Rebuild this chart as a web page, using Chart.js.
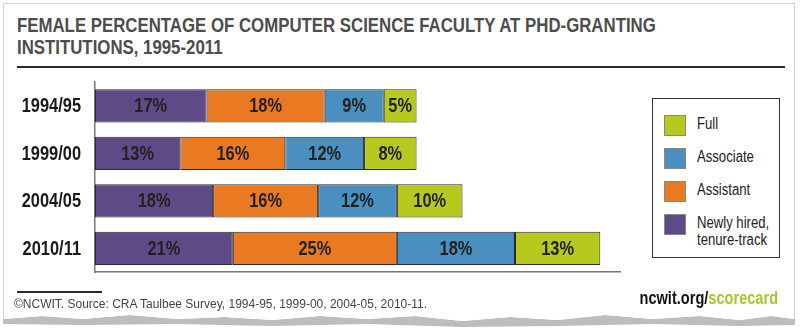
<!DOCTYPE html>
<html>
<head>
<meta charset="utf-8">
<script src="https://cdn.jsdelivr.net/npm/chart.js@4.4.1/dist/chart.umd.min.js"></script>
<style>
  html, body { margin: 0; padding: 0; background: #ffffff; }
  #page { position: relative; width: 800px; height: 334px; overflow: hidden; background: #fff;
          font-family: "Liberation Sans", Arial, sans-serif; }
  #card { position: absolute; left: 3px; top: 3px; width: 792px; height: 331px; background: #fff;
          border: 1px solid #d4d4d4; box-sizing: border-box;
          clip-path: polygon(0 0, 100% 0, 100% 316px, 97% 313px, 93% 317px, 88% 313px, 82% 316px, 76% 312px, 70% 317px, 64% 314px, 58% 318px, 52% 313px, 46% 316px, 40% 313px, 34% 317px, 28% 314px, 22% 316px, 16% 312px, 10% 316px, 5% 313px, 0 316px); }
  #edge { position: absolute; left: 3px; top: 3px; width: 792px; height: 331px; background: #bdbdbd;
          clip-path: polygon(0 316px, 5% 313px, 10% 316px, 16% 312px, 22% 316px, 28% 314px, 34% 317px, 40% 313px, 46% 316px, 52% 313px, 58% 318px, 64% 314px, 70% 317px, 76% 312px, 82% 316px, 88% 313px, 93% 317px, 97% 313px, 100% 316px, 100% 322px, 93% 323px, 82% 321px, 70% 323px, 58% 324px, 46% 321px, 34% 323px, 22% 321px, 10% 322px, 0 321px); }
  .narrow { transform: scaleX(0.82); transform-origin: left top; white-space: nowrap; }
  #title { position: absolute; left: 17px; top: 14px; font-weight: bold; font-size: 20.5px; line-height: 21.5px;
           color: #4d4d4d; }
  #rule { position: absolute; left: 17px; top: 66px; width: 768px; height: 2px; background: #2a2a2a; }
  #rule2 { position: absolute; left: 17px; top: 291px; width: 85px; height: 2px; background: #2a2a2a; }
  #source { position: absolute; left: 14px; top: 297px; font-size: 12px; color: #444; white-space: nowrap; }
  #brand { position: absolute; right: 22px; top: 288px; font-size: 18px; font-weight: bold; color: #111;
           transform: scaleX(0.81); transform-origin: right top; white-space: nowrap; }
  #brand span { color: #a9c52a; }
  #chartWrap { position: absolute; left: 0; top: 0; width: 660px; height: 334px; }
  #legend { position: absolute; left: 652px; top: 98px; width: 128px; height: 160px; box-sizing: border-box;
            border: 1.5px solid #333; background: #fff; }
  .item { position: absolute; left: 11px; }
  .sw { position: absolute; left: 0; top: 0; width: 22px; height: 21px; border: 1px solid #888; box-sizing: border-box; }
  .lab { position: absolute; left: 33px; top: 0px; font-size: 16px; line-height: 17px; color: #222; }
</style>
</head>
<body>
<div id="page">
  <div id="edge"></div>
  <div id="card"></div>
  <div id="title" class="narrow">FEMALE PERCENTAGE OF COMPUTER SCIENCE FACULTY AT PHD-GRANTING<br>INSTITUTIONS, 1995-2011</div>
  <div id="rule"></div>
  <div id="chartWrap"><canvas id="c" width="660" height="334"></canvas></div>
  <div id="legend"></div>
  <div id="rule2"></div>
  <div id="source">©NCWIT. Source: CRA Taulbee Survey, 1994-95, 1999-00, 2004-05, 2010-11.</div>
  <div id="brand">ncwit.org/<span>scorecard</span></div>
</div>
<script>
// Academic years
const years = ['1994/95', '1999/00', '2004/05', '2010/11'];

// Female share (%) by faculty rank
const newlyHired = [17, 13, 18, 21];
const assistant  = [18, 16, 16, 25];
const associate  = [9, 12, 12, 18];
const full       = [5, 8, 10, 13];

const rankNames = ['Newly hired, tenure-track', 'Assistant', 'Associate', 'Full'];
const rankLegendLines = [['Newly hired,', 'tenure-track'], ['Assistant'], ['Associate'], ['Full']];
const rankColors = ['#5e4a86', '#e97a22', '#4a8fc0', '#b7c91c'];

const FONT = '"Liberation Sans", Arial, sans-serif';
const SQUEEZE = 0.82; // condensed lettering

// Draws text horizontally condensed around its anchor point
function condensedText(ctx, text, x, y, align) {
  ctx.save();
  ctx.translate(x, y);
  ctx.scale(SQUEEZE, 1);
  ctx.textAlign = align;
  ctx.fillText(text, 0, 0);
  ctx.restore();
}

// Category names beside the y axis and each segment's value at its centre
const condensedLabels = {
  id: 'condensedLabels',
  afterDatasetsDraw(chart) {
    const ctx = chart.ctx;
    const yScale = chart.scales.y;
    ctx.save();
    ctx.textBaseline = 'middle';
    ctx.font = 'bold 20px ' + FONT;
    ctx.fillStyle = '#1a1a1a';
    chart.data.labels.forEach((lab, i) => {
      condensedText(ctx, lab, yScale.right - 14, yScale.getPixelForTick(i) + 1, 'right');
    });
    ctx.fillStyle = '#222';
    chart.data.datasets.forEach((ds, i) => {
      chart.getDatasetMeta(i).data.forEach((bar, j) => {
        condensedText(ctx, ds.data[j] + '%', (bar.x + bar.base) / 2, bar.y + 1, 'center');
      });
    });
    ctx.restore();
  }
};

const seriesValues = [newlyHired, assistant, associate, full];

const chart = new Chart(document.getElementById('c'), {
  type: 'bar',
  data: {
    labels: years,
    datasets: seriesValues.map((vals, i) => ({
      label: rankNames[i],
      data: vals,
      backgroundColor: rankColors[i],
      borderColor: '#2b2b2b',
      borderWidth: 1,
      borderSkipped: false,
      categoryPercentage: 1,
      barPercentage: 0.7
    }))
  },
  options: {
    indexAxis: 'y',
    responsive: false,
    animation: false,
    devicePixelRatio: 1,
    layout: { padding: { top: 82, bottom: 62, left: 0, right: 40 } },
    plugins: { legend: { display: false }, tooltip: { enabled: false } },
    scales: {
      x: {
        stacked: true,
        min: 0,
        max: 80,
        ticks: { display: false },
        grid: { display: false, drawTicks: false },
        border: { display: true, color: '#777', width: 1.5 },
        afterFit(scale) { scale.height = 0; }
      },
      y: {
        stacked: true,
        ticks: { display: false },
        grid: { display: false, drawTicks: false },
        border: { display: true, color: '#777', width: 1.5 },
        afterFit(scale) { scale.width = 95; }
      }
    }
  },
  plugins: [condensedLabels]
});

// Legend box, listed from the outermost segment inward
const legend = document.getElementById('legend');
const tops = [16, 49, 82, 115];
[3, 2, 1, 0].forEach((di, k) => {
  const ds = chart.data.datasets[di];
  const item = document.createElement('div');
  item.className = 'item';
  item.style.top = tops[k] + 'px';
  const sw = document.createElement('div');
  sw.className = 'sw';
  sw.style.background = ds.backgroundColor;
  const lab = document.createElement('div');
  lab.className = 'lab narrow';
  lab.innerHTML = rankLegendLines[di].join('<br>');
  item.appendChild(sw);
  item.appendChild(lab);
  legend.appendChild(item);
});
</script>
</body>
</html>
